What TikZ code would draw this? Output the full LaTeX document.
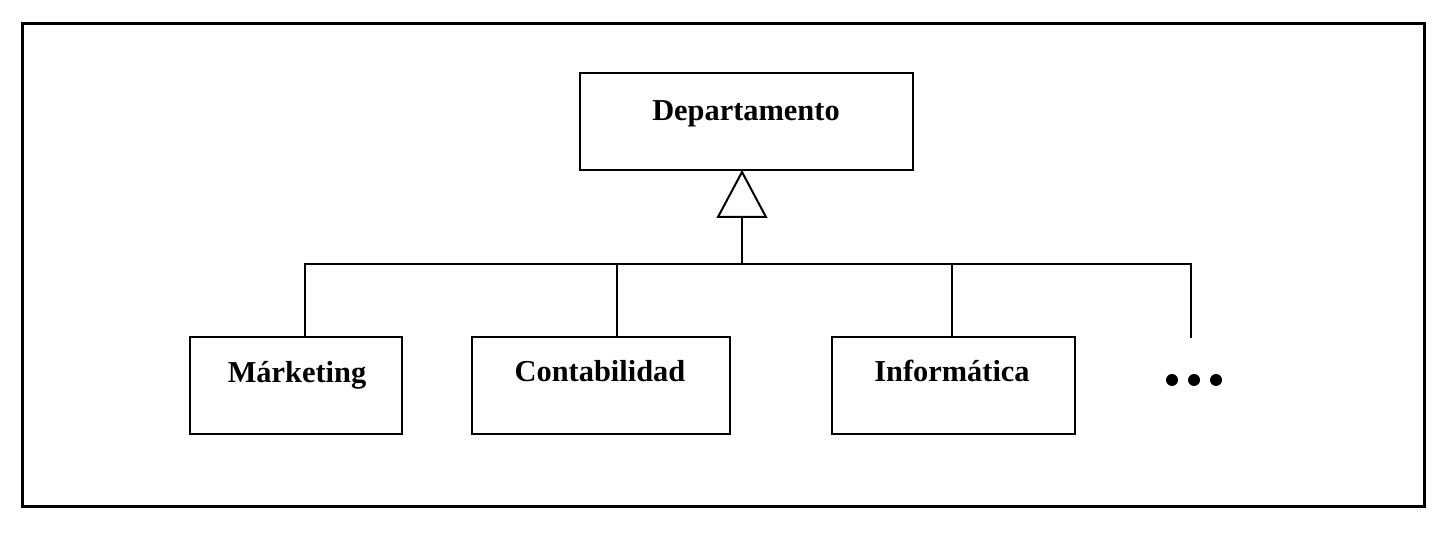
\documentclass[tikz,border=0pt]{standalone}
\usepackage{fontspec}
\setmainfont{Liberation Serif}
\usetikzlibrary{calc}
\begin{document}
\begin{tikzpicture}[x=0.5pt,y=-0.5pt,
  box/.style={draw,line width=1pt,rectangle,inner sep=0pt,minimum height=48.5pt},
  lbl/.style={anchor=base,inner sep=0pt,font=\fontsize{15.2}{18}\selectfont\bfseries},
  conn/.style={line width=1pt},
  dotmark/.style={circle,fill=black,inner sep=0pt,minimum size=6pt}]
\useasboundingbox (0,0) rectangle (1448,544);
\draw[line width=1.5pt] (22,24) rectangle (1424,507);
% parent
\node[box,minimum width=166.5pt] (dep) at (746.5,122) {};
\node[lbl] (deptxt) at (746,121) {Departamento};
% children
\node[box,minimum width=106pt] (mk) at (296,385.5) {};
\node[lbl] (mktxt) at (297,383) {Márketing};
\node[box,minimum width=129pt] (co) at (601,385.5) {};
\node[lbl] (cotxt) at (600,382) {Contabilidad};
\node[box,minimum width=121.5pt] (in) at (953.5,385.5) {};
\node[lbl] (intxt) at (952,382) {Informática};
\node[dotmark] (d1) at (1172,380) {};
\node[dotmark] (d2) at (1194,380) {};
\node[dotmark] (d3) at (1216,380) {};
% generalization triangle
\coordinate (apex) at (742,172);
\coordinate (tbase) at (742,217);
\coordinate (bus) at (742,264);
\draw[conn] (apex) -- ($(tbase)+(-24,0)$) -- ($(tbase)+(24,0)$) -- cycle;
\draw[conn] (tbase) -- (bus);
\coordinate (mkt) at (305,337);
\coordinate (cot) at (617,337);
\coordinate (int) at (952,337);
\coordinate (more) at (1191,338);
\draw[conn] (mkt) |- (bus) -| (more);
\draw[conn] (cot) -- (cot |- bus);
\draw[conn] (int) -- (int |- bus);
\end{tikzpicture}
\end{document}
